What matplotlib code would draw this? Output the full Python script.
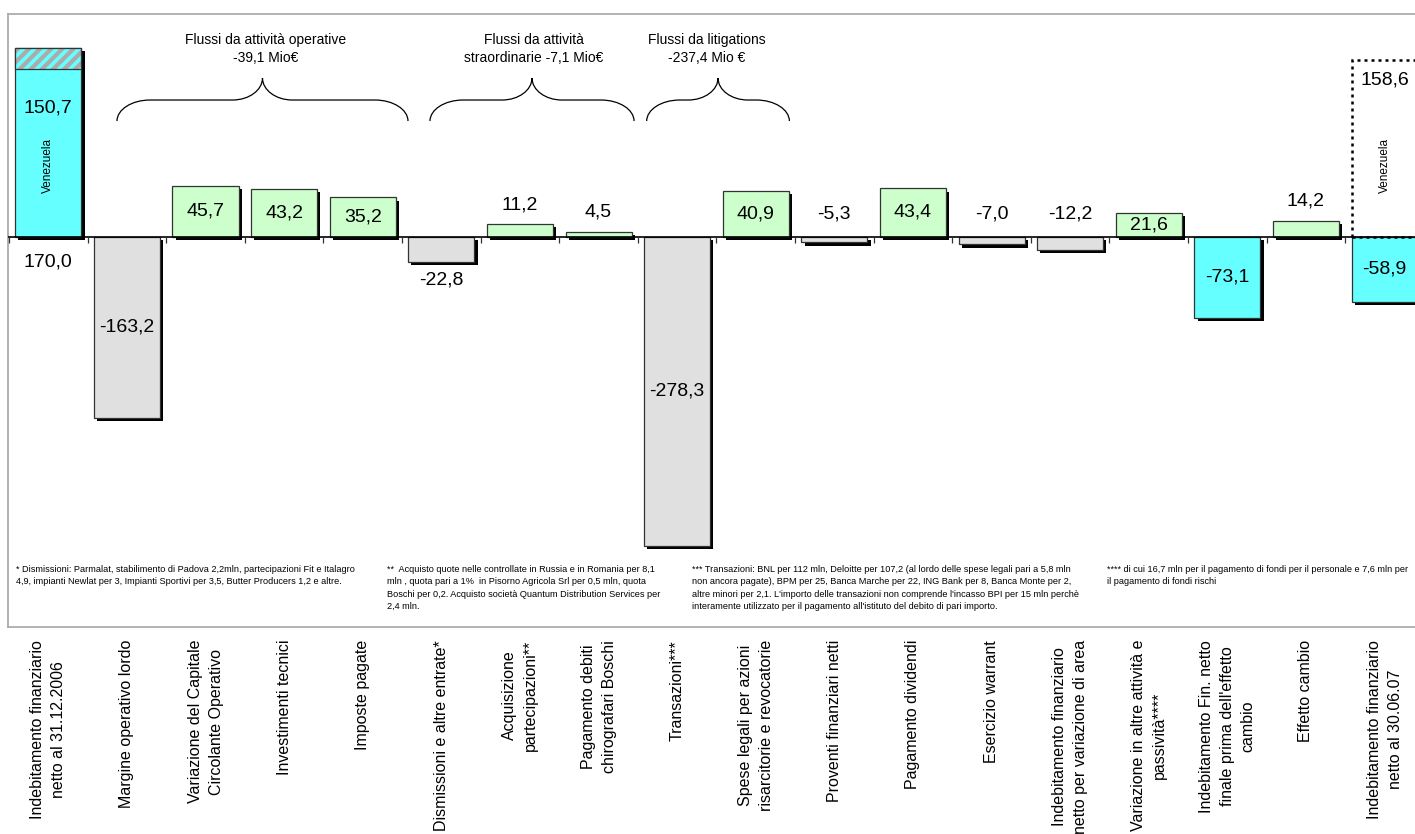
"""Indebitamento finanziario netto: ponte 31.12.2006 -> 30.06.07."""
import matplotlib

matplotlib.use("Agg")
import matplotlib.pyplot as plt
import matplotlib.patheffects as pe
from matplotlib.path import Path
from matplotlib.patches import PathPatch, Rectangle
from matplotlib import transforms

plt.rcParams["font.family"] = ["Liberation Sans", "DejaVu Sans"]
plt.rcParams["hatch.linewidth"] = 3.0

# Dati (Mio€)
CATEGORIES = [
    "Indebitamento finanziario\nnetto al 31.12.2006",
    "Margine operativo lordo",
    "Variazione del Capitale\nCircolante Operativo",
    "Investimenti tecnici",
    "Imposte pagate",
    "Dismissioni e altre entrate*",
    "Acquisizione\npartecipazioni**",
    "Pagamento debiti\nchirografari Boschi",
    "Transazioni***",
    "Spese legali per azioni\nrisarcitorie e revocatorie",
    "Proventi finanziari netti",
    "Pagamento dividendi",
    "Esercizio warrant",
    "Indebitamento finanziario\nnetto per variazione di area",
    "Variazione in altre attività e\npassività****",
    "Indebitamento Fin. netto\nfinale prima dell'effetto\ncambio",
    "Effetto cambio",
    "Indebitamento finanziario\nnetto al 30.06.07",
]
VALUES = [150.7, -163.2, 45.7, 43.2, 35.2, -22.8, 11.2, 4.5, -278.3, 40.9,
          -5.3, 43.4, -7.0, -12.2, 21.6, -73.1, 14.2, -58.9]
KIND = ["tot", "neg", "pos", "pos", "pos", "neg", "pos", "pos", "neg", "pos",
        "neg", "pos", "neg", "neg", "pos", "tot", "pos", "tot"]
# dove sta l'etichetta: dentro la barra, sopra o sotto
LABEL_POS = ["none", "in", "in", "in", "in", "below", "above", "above", "in", "in",
             "above", "in", "above", "above", "in", "in", "above", "in"]

START_TOTAL = 170.0      # indebitamento iniziale, di cui Venezuela 150,7
END_VENEZUELA = 158.6    # riquadro tratteggiato sull'ultima barra

# gruppi con parentesi graffa: (x sinistra, x destra, x testo, testo)
GROUPS = [
    (0.874, 4.576, 2.76, "Flussi da attività operative\n-39,1 Mio€"),
    (4.856, 7.452, 6.18, "Flussi da attività\nstraordinarie -7,1 Mio€"),
    (7.613, 9.428, 8.38, "Flussi da litigations\n-237,4 Mio €"),
]

FOOTNOTES = [
    (16, "* Dismissioni: Parmalat, stabilimento di Padova 2,2mln, partecipazioni Fit e Italagro\n"
         "4,9, impianti Newlat per 3, Impianti Sportivi per 3,5, Butter Producers 1,2 e altre."),
    (387, "**  Acquisto quote nelle controllate in Russia e in Romania per 8,1\n"
          "mln , quota pari a 1%  in Pisorno Agricola Srl per 0,5 mln, quota\n"
          "Boschi per 0,2. Acquisto società Quantum Distribution Services per\n"
          "2,4 mln."),
    (692, "*** Transazioni: BNL per 112 mln, Deloitte per 107,2 (al lordo delle spese legali pari a 5,8 mln\n"
          "non ancora pagate), BPM per 25, Banca Marche per 22, ING Bank per 8, Banca Monte per 2,\n"
          "altre minori per 2,1. L'importo delle transazioni non comprende l'incasso BPI per 15 mln perchè\n"
          "interamente utilizzato per il pagamento all'istituto del debito di pari importo."),
    (1107, "**** di cui 16,7 mln per il pagamento di fondi per il personale e 7,6 mln per\n"
           "il pagamento di fondi rischi"),
]

COLORS = {"tot": "#66FFFF", "pos": "#CCFFCC", "neg": "#E0E0E0"}
EDGE = "#333333"
W, H = 1415, 834
BAR_W = 0.84
SHADOW = [pe.SimplePatchShadow(offset=(2.3, -2.3), shadow_rgbFace="black", alpha=1.0),
          pe.Normal()]


def fmt(v):
    return f"{v:.1f}".replace(".", ",")


def brace(ax, x0, x1, y_end=104.0, y_mid=122.9, y_tip=142.7, r_end=0.42, r_mid=0.38):
    """Parentesi graffa orizzontale aperta verso il basso."""
    k = 0.55
    xc = (x0 + x1) / 2
    verts = [
        (x0, y_end),
        (x0, y_end + k * (y_mid - y_end)), (x0 + r_end * (1 - k), y_mid), (x0 + r_end, y_mid),
        (xc - r_mid, y_mid),
        (xc - r_mid * (1 - k), y_mid), (xc, y_tip - k * (y_tip - y_mid)), (xc, y_tip),
        (xc, y_tip - k * (y_tip - y_mid)), (xc + r_mid * (1 - k), y_mid), (xc + r_mid, y_mid),
        (x1 - r_end, y_mid),
        (x1 - r_end * (1 - k), y_mid), (x1, y_end + k * (y_mid - y_end)), (x1, y_end),
    ]
    codes = [Path.MOVETO, Path.CURVE4, Path.CURVE4, Path.CURVE4, Path.LINETO,
             Path.CURVE4, Path.CURVE4, Path.CURVE4, Path.CURVE4, Path.CURVE4, Path.CURVE4,
             Path.LINETO, Path.CURVE4, Path.CURVE4, Path.CURVE4]
    ax.add_patch(PathPatch(Path(verts, codes), fill=False, lw=0.9, color="black"))


fig = plt.figure(figsize=(W / 100, H / 100), dpi=100)
# il riquadro prosegue oltre il bordo destro dell'immagine
ax = fig.add_axes([8 / W, (H - 627) / H, 1423.7 / W, 613 / H])
ax.set_xlim(-0.5127, 17.6)
ax.set_ylim(-351.3, 200.3)
ax.set_xticks([])
ax.set_yticks([])
for s in ax.spines.values():
    s.set_color("#A6A6A6")
    s.set_linewidth(1.2)

n = len(VALUES)
xs = list(range(n))
heights = list(VALUES)
heights[0] = START_TOTAL
colors = [COLORS[k] for k in KIND]
bars = ax.bar(xs, heights, width=BAR_W, color=colors, edgecolor=EDGE, linewidth=0.9, zorder=3)
for b in bars:
    b.set_path_effects(SHADOW)

# parte tratteggiata sopra la quota Venezuela della prima barra
ax.bar(0, START_TOTAL - VALUES[0], bottom=VALUES[0], width=BAR_W, color="#66FFFF",
       edgecolor="#ABABAB", hatch="///", linewidth=0, zorder=4)
ax.bar(0, START_TOTAL - VALUES[0], bottom=VALUES[0], width=BAR_W, fill=False,
       edgecolor=EDGE, linewidth=0.9, zorder=5)

# riquadro tratteggiato sull'ultima barra
ax.add_patch(Rectangle((n - 1 - BAR_W / 2, 0), BAR_W, END_VENEZUELA, fill=False,
                       linestyle=(0, (1.2, 1.6)), lw=1.8, edgecolor="black", zorder=4))

# asse dello zero con tacche tra le categorie
ax.axhline(0, color="black", lw=1.2, zorder=6)
ax.plot([i - 0.5 for i in range(n + 1)], [0] * (n + 1), ls="none", marker=3, ms=4,
        mew=0.9, color="#333333", zorder=6)

# etichette dei valori
for i, (v, pos) in enumerate(zip(VALUES, LABEL_POS)):
    if pos == "in":
        ax.text(i, v / 2, fmt(v), ha="center", va="center", fontsize=14, zorder=7)
    elif pos == "above":
        ax.annotate(fmt(v), (i, max(v, 0)), xytext=(0, 14 if v > 0 else 16.5),
                    textcoords="offset points", ha="center", va="center", fontsize=14)
    elif pos == "below":
        ax.annotate(fmt(v), (i, v), xytext=(0, -13), textcoords="offset points",
                    ha="center", va="center", fontsize=14)

ax.annotate(fmt(VALUES[0]), (0, VALUES[0]), xytext=(0, -28), textcoords="offset points",
            ha="center", va="center", fontsize=14, zorder=7)
ax.annotate(fmt(START_TOTAL), (0, 0), xytext=(0, -18), textcoords="offset points",
            ha="center", va="center", fontsize=14)
ax.annotate(fmt(END_VENEZUELA), (n - 1, END_VENEZUELA), xytext=(0, -14.5),
            textcoords="offset points", ha="center", va="center", fontsize=14)
for i in (0, n - 1):
    ax.text(i, 64.4, "Venezuela", rotation=90, ha="center", va="center", fontsize=8.5,
            zorder=7)

# parentesi graffe e titoli dei gruppi
for x0, x1, xt, txt in GROUPS:
    brace(ax, x0, x1)
    ax.text(xt, 168.8, txt, ha="center", va="center", fontsize=10, linespacing=1.3)

# etichette delle categorie, ruotate
trans = transforms.blended_transform_factory(ax.transData, ax.transAxes)
for i, lab in enumerate(CATEGORIES):
    ax.text(i, -0.0212, lab, transform=trans, rotation=90, ha="center", va="top",
            multialignment="center", fontsize=11.5, linespacing=1.5, clip_on=False)

# note a pie' di grafico
for xpx, txt in FOOTNOTES:
    fig.text(xpx / W, 1 - 565 / H, txt, ha="left", va="top", fontsize=6.6, linespacing=1.48)

fig.savefig("out.png", dpi=100)
